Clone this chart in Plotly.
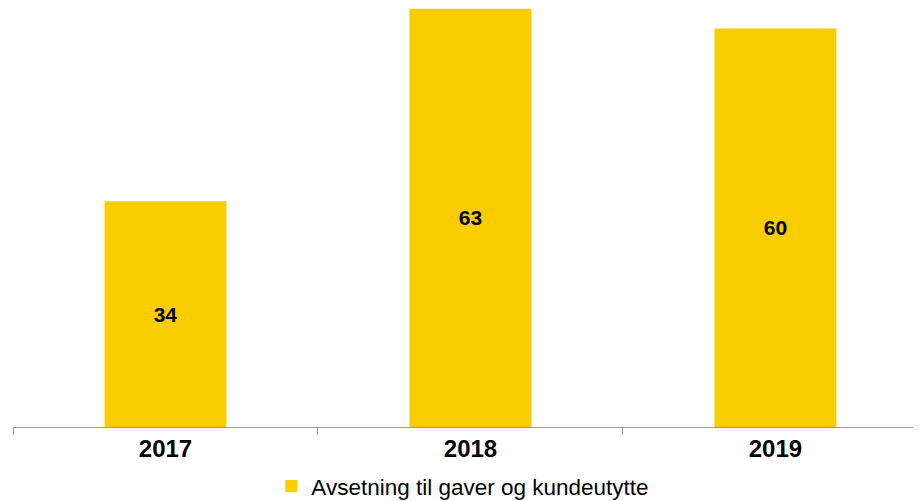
import plotly.graph_objects as go

years = ["2017", "2018", "2019"]
values = [34, 63, 60]
series_name = "Avsetning til gaver og kundeutytte"

fig = go.Figure()
fig.add_trace(go.Bar(
    x=years, y=values, name=series_name,
    marker=dict(color="#FACD00", line=dict(width=0)),
    width=0.4,
    text=[str(v) for v in values],
    textposition="inside", insidetextanchor="middle",
    textfont=dict(family="Liberation Sans, Arial", size=21, color="black", weight="bold"),
    showlegend=True,
))

fig.update_layout(
    width=905, height=493,
    margin=dict(l=5, r=0, t=0, b=74, autoexpand=False),
    plot_bgcolor="white", paper_bgcolor="white",
    showlegend=True,
    legend=dict(orientation="h", x=0.287, xanchor="left", y=-0.142, yanchor="middle",
                font=dict(family="Liberation Sans, Arial", size=22.5, color="black"),
                itemclick=False),
    xaxis=dict(type="category", range=[-0.5, 2.451], showline=True, linecolor="#9a9a9a", linewidth=1,
               ticks="outside", tickson="boundaries", ticklen=7, tickcolor="#9a9a9a",
               tickfont=dict(family="Liberation Sans, Arial", size=24, color="black", weight="bold"),
               showgrid=False, zeroline=False, automargin=False),
    yaxis=dict(range=[0, 63.1], visible=False, showgrid=False, zeroline=False, automargin=False),
)

fig.write_html("out.html")
